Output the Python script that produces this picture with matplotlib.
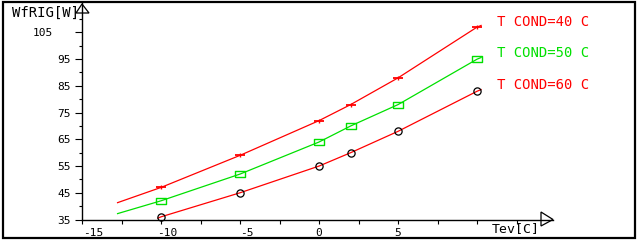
import matplotlib
matplotlib.use("Agg")
import matplotlib.pyplot as plt
from matplotlib.patches import Polygon, Rectangle
from matplotlib.transforms import ScaledTranslation

# ---- data ----
tev = [-10, -5, 0, 2, 5, 10]
w_cond40 = [47, 59, 72, 78, 88, 107]
w_cond50 = [42, 52, 64, 70, 78, 95]
w_cond60 = [36, 45, 55, 60, 68, 83]

# fitted-curve traces (start / end)
line40_x = [-12.75, -10, -5, 0, 2, 5, 10, 10.25]
line40_y = [41.3, 47, 59, 72, 78, 88, 107, 107.6]
line50_x = [-12.75, -10, -5, 0, 2, 5, 10, 10.25]
line50_y = [37.2, 42, 52, 64, 70, 78, 95, 95.6]
line60_x = [-10.2, -10, -5, 0, 2, 5, 10, 10.25]
line60_y = [35.5, 36, 45, 55, 60, 68, 83, 83.6]

series_names = ["T COND=40 C", "T COND=50 C", "T COND=60 C"]
x_ticks = [-15, -10, -5, 0, 5]
x_minor = [-12.5, -7.5, -2.5, 2.5, 7.5, 10, 12.5]
y_ticks = [35, 45, 55, 65, 75, 85, 95, 105]
y_minor = [40, 50, 60, 70, 80, 90, 100, 110]
x_label = "Tev[C]"
y_label = "WfRIG[W]"

RED = "#ff0000"
GREEN = "#00e000"
MONO = "DejaVu Sans Mono"

W, H = 640, 240
fig = plt.figure(figsize=(W / 100, H / 100), dpi=100)

def fx(px):
    return px / W

def fy(py):
    return 1 - py / H

ax_l, ax_r, ax_b, ax_t = 82, 553, 219.5, 3
ax = fig.add_axes([fx(ax_l), fy(ax_b), fx(ax_r) - fx(ax_l), fy(ax_t) - fy(ax_b)])
ax.set_xlim(-15, 14.8)
ax.set_ylim(35, 116)
ax.patch.set_alpha(0)
for s in ("top", "right"):
    ax.spines[s].set_visible(False)
for s in ("left", "bottom"):
    ax.spines[s].set_linewidth(1.0)
    ax.spines[s].set_color("black")

lw = 0.9
ax.plot(line40_x, line40_y, color=RED, lw=lw, clip_on=True)
ax.plot(line50_x, line50_y, color=GREEN, lw=lw, clip_on=True)
ax.plot(line60_x, line60_y, color=RED, lw=lw, clip_on=True)

# markers
rect_marker = [(-1, -0.55), (1, -0.55), (1, 0.55), (-1, 0.55), (-1, -0.55)]
ax.plot(tev, w_cond40, ls="none", marker="_", ms=7.5, mew=1.3, color=RED)
ax.plot(tev, w_cond40, ls="none", marker="|", ms=3, mew=1.0, color=RED)
ax.plot(tev, w_cond50, ls="none", marker=rect_marker, ms=7, mew=1.0, mfc="none",
        mec=GREEN, clip_on=False)
ax.plot(tev, w_cond60, ls="none", marker="o", ms=5.2, mew=0.9, mfc="none",
        mec="black", clip_on=False)

# ticks
ax.set_xticks(x_ticks)
ax.set_xticks(x_minor, minor=True)
ax.set_xticklabels([str(v) for v in x_ticks])
ax.set_yticks(y_ticks)
ax.set_yticks(y_minor, minor=True)
ax.set_yticklabels([str(v) for v in y_ticks])
ax.tick_params(axis="x", which="both", direction="out", length=3, width=0.8,
               pad=3, labelsize=8)
ax.tick_params(axis="y", which="major", direction="out", length=5, width=0.8,
               pad=3, labelsize=8)
ax.tick_params(axis="y", which="minor", direction="out", length=2.5, width=0.8)
for lab in ax.get_xticklabels() + ax.get_yticklabels():
    lab.set_family(MONO)
# label offsets as in the reference
offsets = {"-15": 11, "-10": 6, "-5": 7, "0": 0, "5": 0}
for lab in ax.get_xticklabels():
    dx = offsets.get(lab.get_text(), 0)
    lab.set_transform(lab.get_transform() + ScaledTranslation(dx / 100, 0, fig.dpi_scale_trans))
for lab in ax.get_yticklabels():
    if lab.get_text() == "105":
        lab.set_transform(lab.get_transform() + ScaledTranslation(-18 / 100, 0, fig.dpi_scale_trans))

# arrows
tr = fig.transFigure
fig.patches.append(Polygon([(fx(76), fy(13)), (fx(ax_l), fy(4)), (fx(89), fy(13))],
                           closed=True, fill=False, ec="black", lw=0.9, transform=tr))
fig.patches.append(Polygon([(fx(541), fy(212)), (fx(ax_r), fy(ax_b)), (fx(541), fy(226))],
                           closed=True, fill=False, ec="black", lw=0.9, transform=tr))

# outer frame
fig.patches.append(Rectangle((fx(3), fy(238)), fx(632), fy(2) - fy(238), fill=False,
                             ec="black", lw=1.6, transform=tr))

# axis labels
fig.text(fx(12), fy(13), y_label, family=MONO, fontsize=10, ha="left", va="center")
fig.text(fx(492), fy(229), x_label, family=MONO, fontsize=9.5, ha="left", va="center")

# series legend text
colors = [RED, GREEN, RED]
ys = [22, 53, 85]
for name, c, yy in zip(series_names, colors, ys):
    fig.text(fx(497), fy(yy), name, family=MONO, fontsize=10, color=c,
             ha="left", va="center")

fig.savefig("out.png", dpi=100)
